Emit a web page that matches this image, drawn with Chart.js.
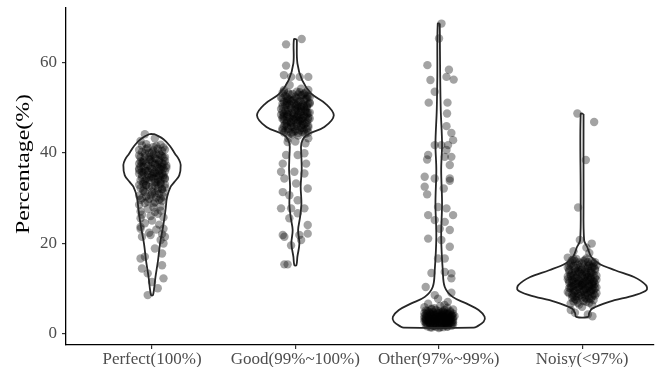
<!DOCTYPE html>
<html>
<head>
<meta charset="utf-8">
<script src="https://cdn.jsdelivr.net/npm/chart.js@4.4.1/dist/chart.umd.min.js"></script>
<style>
  html, body { margin: 0; padding: 0; background: #ffffff; }
  canvas { display: block; }
</style>
</head>
<body>
<canvas id="chart" width="658" height="367"></canvas>
<script>
// Categories along the x axis
const categories = ['Perfect(100%)', 'Good(99%~100%)', 'Other(97%~99%)', 'Noisy(<97%)'];
const yTickValues = [0, 20, 40, 60];
const yTitle = 'Percentage(%)';

// Observations per category: [jitter, percentage]
const perfectPoints = [
  [-0.05,44.1],[-0.08,42.6],[0.02,43.2],[0.06,41.8],[-0.03,41.1],[0.09,40.7],[-0.07,40.2],[0.01,40.5],[0.05,39.8],
  [-0.09,39.4],[-0.02,39.1],[0.08,38.9],[0.03,38.6],[-0.06,38.3],[0.00,38.0],[0.07,37.7],[-0.04,37.5],[0.10,37.2],
  [-0.08,37.0],[0.04,36.8],[-0.01,36.6],[0.06,36.3],[-0.05,36.1],[0.09,35.9],[0.02,35.7],[-0.09,35.4],[-0.03,35.2],
  [0.05,35.0],[0.08,34.7],[-0.07,34.5],[0.01,34.3],[-0.02,34.0],[0.06,33.8],[-0.06,33.5],[0.03,33.3],[0.09,33.0],
  [-0.04,32.8],[0.00,32.5],[-0.08,32.2],[0.07,32.0],[0.04,31.6],[-0.05,31.3],[0.02,31.0],[-0.01,30.6],[0.08,30.3],
  [-0.07,30.0],[0.05,29.6],[-0.03,29.2],[0.01,28.8],[-0.09,28.5],[0.06,28.1],
  [0.04,40.9],[-0.05,39.9],[0.07,39.3],[-0.01,38.7],[-0.08,38.1],[0.05,37.9],[0.02,37.3],[-0.06,36.9],[0.08,36.5],
  [-0.03,36.0],[0.03,35.5],[-0.07,35.8],[0.06,34.9],[0.00,34.8],[-0.04,34.2],[0.09,34.4],[-0.09,37.6],[0.01,39.6],
  [0.10,36.7],[-0.02,40.0],[0.04,33.6],[-0.06,33.1],[0.07,31.9],[-0.03,27.6],[0.02,26.9],[-0.07,26.3],[0.08,25.7],
  [0.00,25.0],[-0.05,24.4],[0.05,24.1],[-0.08,23.6],[0.03,23.0],[-0.02,22.3],[0.07,22.0],
  [0.03,41.5],[-0.04,41.9],[0.08,41.2],[-0.09,40.6],[0.00,40.1],[0.06,39.5],[-0.05,39.2],[0.02,38.8],[-0.01,38.4],
  [0.09,38.2],[-0.07,37.8],[0.04,37.4],[-0.03,37.1],[0.07,36.9],[0.00,36.4],[-0.09,36.2],[0.05,36.0],[-0.06,35.6],
  [0.01,35.3],[0.08,35.1],[-0.02,34.6],[0.04,34.1],[-0.08,33.9],[0.06,33.4],[-0.04,32.9],[0.02,32.7],[0.09,32.3],
  [-0.06,31.8],[0.00,31.4],[0.05,30.9],[-0.09,30.5],[0.03,30.1],[-0.02,29.8],[0.07,29.4],[-0.05,28.9],[0.01,27.9],
  [0.06,27.2],[-0.08,27.0],[0.04,26.5],[-0.01,26.0],
  [-0.07,41.6],[0.01,41.3],[0.07,40.4],[-0.04,40.8],[0.03,39.7],[-0.08,39.0],[0.09,39.0],[-0.02,38.5],[0.05,38.3],
  [-0.06,37.9],[0.02,37.6],[0.08,37.5],[-0.01,37.0],[-0.09,36.5],[0.05,36.6],[-0.04,35.9],[0.01,35.6],[0.07,35.4],
  [-0.07,35.1],[0.03,34.9],[-0.01,34.5],[0.09,34.2],[-0.05,33.8],[0.02,33.5],[0.06,33.1],[-0.09,32.9],[-0.02,32.4],
  [0.04,32.1],[-0.06,31.5],[0.08,31.2],[0.00,30.8],[-0.04,30.3],[0.06,29.9],[-0.08,29.6],[0.02,29.1],
  [-0.08,25.5],[-0.08,23.2],[-0.07,21.4],[0.08,23.2],[0.09,21.4],[0.08,19.9],[-0.08,16.6],[-0.07,14.4],[0.07,17.7],
  [0.07,15.1],[-0.03,13.3],[0.08,12.2],[0.04,10.0],[-0.03,8.5],[0.00,11.4],[-0.05,17.0],[0.02,18.8],[-0.01,21.8],
  [0.06,20.7]
];
const goodPoints = [
  [-0.09,53.2],[-0.02,53.0],[0.05,52.8],[0.09,52.5],[-0.06,52.3],[0.01,52.1],[0.07,51.9],[-0.04,51.7],[0.03,51.5],
  [-0.08,51.3],[0.10,51.1],[-0.01,50.9],[0.05,50.7],[-0.07,50.5],[0.02,50.3],[0.08,50.1],[-0.03,49.9],[-0.10,49.7],
  [0.04,49.6],[0.00,49.4],[0.07,49.2],[-0.05,49.0],[0.09,48.8],[-0.08,48.7],[0.02,48.5],[-0.02,48.3],[0.06,48.2],
  [-0.06,48.0],[0.03,47.8],[0.10,47.6],[-0.09,47.5],[-0.01,47.3],[0.05,47.1],[-0.04,46.9],[0.08,46.7],[0.01,46.5],
  [-0.07,46.3],[0.04,46.1],[-0.03,45.9],[0.09,45.6],[-0.09,45.4],[0.00,45.2],[0.06,44.9],[-0.05,44.7],[0.02,44.4],
  [-0.02,44.1],
  [0.03,53.4],[-0.07,52.6],[0.08,52.0],[-0.03,51.4],[0.01,50.6],[0.06,50.0],[-0.09,50.8],[-0.05,49.5],[0.04,49.1],
  [0.10,48.9],[-0.01,48.6],[-0.08,48.1],[0.07,47.9],[-0.04,47.7],[0.02,47.2],[-0.06,46.6],[0.05,46.4],[0.09,46.0],
  [-0.02,45.7],[0.03,45.0],[-0.08,44.5],[0.07,44.2],[-0.06,51.0],[0.00,52.4],[0.06,53.1],[-0.10,48.4],[0.04,47.4],
  [-0.03,46.8],[0.01,49.8],[0.08,50.4],
  [-0.08,53.6],[0.01,53.5],[0.07,53.3],[-0.04,52.9],[0.04,52.7],[-0.10,52.2],[0.10,52.3],[-0.01,51.8],[0.06,51.6],
  [-0.06,51.5],[0.02,51.2],[0.09,50.8],[-0.04,50.7],[-0.09,50.2],[0.04,50.2],[0.00,50.0],[0.07,49.6],[-0.07,49.3],
  [0.03,49.0],[-0.02,48.9],[0.08,48.5],[-0.05,48.4],[0.01,48.0],[0.05,47.7],[-0.09,47.9],[-0.02,47.5],[0.09,47.3],
  [-0.06,47.0],[0.02,46.8],[0.06,46.2],[-0.08,46.0],[-0.01,45.8],[0.04,45.5],[-0.05,45.3],[0.08,45.2],[0.00,44.8],
  [-0.07,44.9],[0.05,44.6],[-0.03,44.3],[0.02,43.8],
  [-0.05,53.3],[0.02,52.9],[0.08,52.7],[-0.09,52.0],[-0.02,51.6],[0.04,51.3],[0.10,50.9],[-0.06,50.6],[0.00,50.4],
  [0.06,50.3],[-0.04,50.0],[-0.09,49.1],[0.02,49.3],[0.08,49.0],[-0.06,48.6],[0.04,48.4],[-0.01,48.1],[0.09,47.8],
  [-0.08,47.2],[0.03,47.1],[-0.03,46.6],[0.07,46.5],[-0.06,45.9],[0.01,46.0],[0.05,45.4],[-0.09,45.0],[-0.02,44.6],
  [0.09,44.5],[0.00,47.6],[-0.05,51.9],
  [-0.065,64.0],[0.044,65.2],[-0.065,59.3],[-0.08,57.2],[-0.03,56.8],[0.03,56.8],[0.09,56.8],[-0.04,55.0],[0.04,54.2],
  [0.09,53.9],[-0.08,53.9],[-0.05,43.2],[0.09,43.2],[-0.054,42.4],[0.00,42.5],[0.07,42.1],[-0.065,39.5],[0.016,39.5],
  [0.063,39.9],[0.075,37.6],[-0.088,37.6],[-0.10,35.8],[-0.007,35.8],[0.063,35.4],[-0.077,34.3],[0.005,33.2],
  [0.086,32.1],[-0.088,31.3],[-0.042,30.6],[0.016,29.5],[-0.10,27.7],[-0.03,27.7],[0.063,27.7],[-0.042,25.5],
  [0.016,26.6],[0.086,24.0],[-0.088,21.8],[-0.077,21.4],[0.028,21.8],[0.086,22.1],[-0.03,19.5],[0.04,20.7],
  [-0.077,15.3],[-0.054,15.3]
];
const otherPoints = [
  [0.019,68.6],[0.002,65.3],[-0.079,59.4],[0.071,58.4],[-0.058,56.1],[0.054,56.8],[0.104,56.2],[-0.028,53.5],
  [-0.07,51.1],[0.061,51.1],[0.058,48.7],[0.054,45.9],[0.088,44.4],[0.10,42.8],[-0.028,41.7],[0.018,41.7],
  [0.065,41.7],[-0.074,39.5],[-0.081,38.5],[0.042,39.1],[0.088,39.1],[0.077,37.3],[0.054,40.6],[-0.098,34.7],
  [-0.028,34.3],[0.077,34.3],[0.077,33.8],[-0.098,32.5],[0.035,32.1],[-0.081,30.8],[-0.005,28.0],[0.054,27.7],
  [-0.074,26.2],[0.10,26.2],[-0.028,25.1],[0.042,24.7],[0.007,23.2],[0.077,22.9],[-0.074,21.0],[0.018,20.7],
  [0.077,19.2],[-0.005,16.6],[0.042,16.6],[-0.051,13.4],[0.042,13.6],[0.088,13.3],[0.088,12.2],[-0.091,10.3],
  [0.088,9.0],[-0.028,8.5],[-0.005,7.7],[-0.074,6.6],[0.063,7.0],
  [-0.10,5.8],[-0.05,5.5],[0.01,6.1],[0.06,5.7],[0.10,5.3],[-0.08,5.0],[-0.02,5.2],[0.03,4.9],[0.08,4.7],
  [-0.06,4.6],[0.00,4.5],[0.05,4.4],[-0.09,4.2],[-0.03,4.1],[0.02,4.0],[0.07,3.9],[0.11,3.8],[-0.07,3.7],
  [-0.01,3.6],[0.04,3.5],[0.09,3.4],[-0.10,3.3],[-0.04,3.3],[0.01,3.2],[0.06,3.1],[-0.08,3.0],[-0.02,2.9],
  [0.03,2.9],[0.08,2.8],[-0.05,2.7],[0.00,2.6],[0.05,2.5],[0.10,2.5],[-0.09,2.4],[-0.03,2.3],[0.02,2.2],
  [0.07,2.1],[-0.06,2.0],[-0.01,1.9],[0.04,1.8],[0.09,1.7],[-0.08,1.6],[-0.02,1.5],[0.03,1.4],[-0.05,1.3],
  [0.06,1.6],[0.00,1.2],
  [-0.07,4.8],[0.02,4.7],[0.07,4.3],[-0.04,3.9],[0.05,3.7],[-0.09,3.5],[0.00,3.4],[0.10,3.0],[-0.06,3.2],
  [0.03,2.7],[-0.01,2.4],[0.08,2.3],[-0.04,2.1],[0.01,1.8],[0.06,1.9],[-0.10,2.7],[0.09,4.1],[-0.03,5.6],
  [0.04,6.3],[-0.07,2.5],[0.05,3.0],[-0.02,3.8],[0.07,2.6],[0.02,3.6],[-0.05,4.0],[-0.08,2.2],[0.10,3.6],
  [-0.01,4.3],[0.04,2.0],[-0.06,1.4],
  [-0.09,5.1],[0.00,5.0],[0.08,5.0],[-0.04,4.7],[0.04,4.6],[-0.10,4.5],[0.10,4.4],[-0.06,4.3],[0.02,4.3],
  [0.06,4.2],[-0.02,4.1],[-0.08,3.9],[0.01,3.9],[0.08,3.7],[-0.05,3.6],[0.04,3.3],[-0.01,3.1],[-0.09,3.1],
  [0.08,3.2],[-0.03,2.8],[0.05,2.8],[0.01,2.5],[-0.07,2.6],[0.09,2.2],[-0.02,2.1],[0.04,2.4],[-0.09,1.9],
  [0.06,1.5],[-0.04,1.7],[0.01,1.4],[0.10,2.0],[-0.05,2.9],[0.03,4.5],[-0.07,3.4],[0.07,3.5],
  [-0.08,4.4],[-0.01,4.6],[0.06,4.6],[-0.05,4.2],[0.03,4.1],[0.09,3.9],[-0.10,3.8],[-0.03,3.5],[0.04,3.8],
  [0.00,3.1],[-0.07,2.9],[0.07,3.0],[-0.02,2.6],[0.05,2.3],[-0.06,2.3],[0.02,2.0],[-0.09,2.9],[0.09,2.6],
  [-0.03,1.7],[0.05,2.0],[0.00,3.7],[-0.05,5.3],[0.04,5.2]
];
const noisyPoints = [
  [-0.033,48.7],[0.084,46.8],[0.026,38.4],[-0.028,27.9],[-0.016,20.7],[0.067,19.9],[0.03,19.0],[-0.06,18.2],
  [0.05,17.8],[-0.079,5.2],[0.072,3.8],[0.04,4.2],[-0.05,4.6],
  [-0.10,16.8],[-0.04,16.5],[0.02,16.3],[0.07,16.0],[-0.08,15.7],[0.00,15.5],[0.05,15.3],[0.10,15.1],[-0.06,14.9],
  [-0.01,14.7],[0.04,14.5],[0.09,14.3],[-0.09,14.1],[-0.03,13.9],[0.02,13.7],[0.07,13.5],[-0.07,13.3],[0.00,13.1],
  [0.05,12.9],[0.10,12.8],[-0.10,12.6],[-0.04,12.4],[0.01,12.2],[0.06,12.1],[-0.07,11.9],[-0.02,11.7],[0.03,11.6],
  [0.08,11.4],[-0.09,11.2],[-0.03,11.1],[0.02,10.9],[0.07,10.8],[-0.06,10.6],[0.00,10.5],[0.05,10.3],[0.10,10.2],
  [-0.08,10.0],[-0.02,9.9],[0.03,9.7],[0.08,9.6],[-0.05,9.4],[0.01,9.3],[0.06,9.1],[-0.09,8.9],[-0.03,8.8],
  [0.02,8.6],[0.09,8.4],[-0.06,8.2],[0.00,8.0],[0.05,7.8],[-0.04,7.4],[0.03,7.0],[-0.08,6.6],[0.07,6.3],[0.00,5.9],
  [-0.05,16.0],[0.04,15.8],[-0.09,15.0],[0.08,14.8],[-0.01,14.0],[0.06,13.8],[-0.05,13.6],[0.03,13.2],[-0.08,12.7],
  [0.09,12.3],[-0.03,12.0],[0.05,11.8],[-0.06,11.5],[0.01,11.3],[0.09,11.0],[-0.01,10.7],[-0.07,10.4],[0.04,10.1],
  [0.07,9.8],[-0.04,9.5],[-0.10,9.2],[0.03,9.0],[0.08,8.7],[-0.02,8.3],[-0.07,7.9],[0.06,7.6],[0.01,7.2],[-0.03,6.8],
  [-0.07,16.2],[0.01,16.0],[0.08,15.6],[-0.03,15.2],[0.05,15.0],[-0.10,14.6],[0.02,14.4],[-0.05,14.2],[0.09,14.0],
  [-0.02,13.6],[0.06,13.4],[-0.08,13.0],[0.00,12.8],[0.04,12.5],[-0.05,12.3],[0.10,11.9],[-0.09,11.7],[0.02,11.5],
  [0.07,11.2],[-0.04,11.0],[0.00,10.8],[0.05,10.6],[-0.08,10.4],[0.09,10.0],[-0.03,10.2],[0.02,9.9],[-0.06,9.7],
  [0.06,9.4],[-0.01,9.1],[0.10,8.9],[-0.07,8.6],[0.04,8.5],[-0.04,8.1],[0.02,7.9],[0.08,7.4],[-0.06,7.1],[0.05,6.8],
  [-0.02,6.4],
  [-0.06,16.5],[0.03,16.6],[0.09,15.8],[-0.02,15.7],[-0.08,15.3],[0.04,14.9],[-0.04,14.5],[0.07,14.6],[0.00,14.2],
  [-0.09,13.7],[0.03,13.5],[-0.03,13.3],[0.08,13.0],[-0.06,12.9],[0.02,12.6],[0.06,12.4],[-0.01,12.3],[-0.10,12.0],
  [0.04,11.9],[-0.04,11.6],[0.08,11.6],[-0.07,11.2],[0.00,11.1],[0.05,10.9],[-0.02,10.4],[0.08,10.5],[-0.09,10.1],
  [0.01,9.6],[0.05,9.3],[-0.06,9.0],[-0.01,8.5],[0.07,8.2],[0.03,7.6],[-0.05,7.6]
];

// Kernel density outlines: percentage level and half-width (category units)
const perfectDensity = [
  [44.1,0.020],[43.0,0.080],[41.5,0.125],[39.8,0.160],[38.5,0.188],[37.3,0.200],[35.0,0.190],[33.5,0.155],
  [32.5,0.130],[30.2,0.105],[27.3,0.094],[23.6,0.077],[19.9,0.056],[16.2,0.042],[12.5,0.024],[8.5,0.007]
];
const goodDensity = [
  [65.1,0.010],[59.8,0.014],[56.1,0.047],[53.1,0.111],[50.9,0.209],[48.3,0.268],[45.7,0.202],[43.9,0.077],
  [42.1,0.042],[39.1,0.042],[36.2,0.044],[32.5,0.037],[28.8,0.042],[25.8,0.033],[22.9,0.019],[19.9,0.028],
  [17.0,0.014],[15.1,0.007]
];
const otherDensity = [
  [68.6,0.007],[56.8,0.010],[49.4,0.014],[42.0,0.023],[36.2,0.017],[28.8,0.023],[21.4,0.017],[14.0,0.028],
  [10.3,0.042],[8.1,0.097],[6.6,0.195],[5.2,0.278],[3.7,0.320],[2.6,0.313],[1.5,0.264],[1.3,0.244]
];
const noisyDensity = [
  [48.6,0.010],[30.0,0.010],[20.6,0.014],[19.2,0.035],[17.0,0.063],[15.5,0.116],[14.0,0.230],[12.5,0.362],
  [10.7,0.445],[9.6,0.449],[8.5,0.369],[7.0,0.188],[5.5,0.070],[4.5,0.049],[3.7,0.042]
];

const pointSets = [perfectPoints, goodPoints, otherPoints, noisyPoints];
const densitySets = [perfectDensity, goodDensity, otherDensity, noisyDensity];

const FONT = "'Liberation Serif', 'Times New Roman', serif";

// Outline: down the right side, back up the left side, closed at the top
function violinOutline(center, density) {
  const right = density.map(([y, w]) => ({ x: center + w, y }));
  const left = density.slice().reverse().map(([y, w]) => ({ x: center - w, y }));
  return right.concat(left, [right[0]]);
}

const datasets = [];
densitySets.forEach((dens, i) => {
  datasets.push({
    type: 'scatter',
    data: violinOutline(i + 1, dens),
    showLine: true,
    fill: false,
    tension: 0.35,
    borderColor: '#262626',
    borderWidth: 1.8,
    pointRadius: 0,
    order: 0
  });
});
pointSets.forEach((pts, i) => {
  datasets.push({
    type: 'scatter',
    data: pts.map(([j, v]) => ({ x: i + 1 + j, y: v })),
    backgroundColor: 'rgba(0,0,0,0.36)',
    borderWidth: 0,
    pointRadius: 4.2,
    order: 1
  });
});

// Rotated y-axis title, set in a slightly condensed-height serif
const yTitlePlugin = {
  id: 'yTitle',
  afterDraw(chart) {
    const ctx = chart.ctx;
    ctx.save();
    ctx.translate(24, 164);
    ctx.rotate(-Math.PI / 2);
    ctx.scale(1.25, 1);
    ctx.font = "19px " + FONT;
    ctx.fillStyle = '#000000';
    ctx.textAlign = 'center';
    ctx.textBaseline = 'middle';
    ctx.fillText(yTitle, 0, 0);
    ctx.restore();
  }
};

new Chart(document.getElementById('chart'), {
  type: 'scatter',
  data: { datasets },
  options: {
    responsive: false,
    animation: false,
    devicePixelRatio: 1,
    layout: { padding: { left: 0, top: 8, right: 2, bottom: 0 } },
    plugins: { legend: { display: false }, tooltip: { enabled: false } },
    scales: {
      x: {
        type: 'linear',
        min: 0.4,
        max: 4.5,
        afterBuildTicks(scale) { scale.ticks = [1, 2, 3, 4].map(v => ({ value: v })); },
        afterFit(scale) { scale.height = 22; },
        border: { display: true, color: '#000000', width: 1.3 },
        grid: { display: true, drawOnChartArea: false, drawTicks: true, tickLength: 4, color: '#333333', lineWidth: 1.2 },
        ticks: {
          padding: 0,
          color: '#4d4d4d',
          font: { family: FONT, size: 17 },
          maxRotation: 0,
          autoSkip: false,
          callback: (v) => categories[v - 1]
        }
      },
      y: {
        type: 'linear',
        min: -2.55,
        max: 72.05,
        afterBuildTicks(scale) { scale.ticks = yTickValues.map(v => ({ value: v })); },
        afterFit(scale) { scale.width = 66; scale.paddingTop = 0; scale.paddingBottom = 0; },
        border: { display: true, color: '#000000', width: 1.3 },
        grid: { display: true, drawOnChartArea: false, drawTicks: true, tickLength: 4, color: '#333333', lineWidth: 1.2 },
        ticks: {
          padding: 5,
          color: '#4d4d4d',
          font: { family: FONT, size: 17 }
        }
      }
    }
  },
  plugins: [yTitlePlugin]
});
</script>
</body>
</html>
